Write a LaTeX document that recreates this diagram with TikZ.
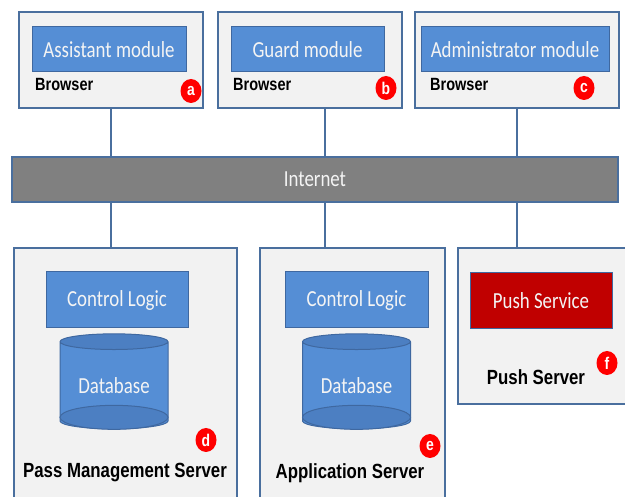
\documentclass[tikz,border=0pt]{standalone}
\usepackage{fontspec}
\usetikzlibrary{shapes.geometric,positioning}
\newfontfamily\modfamily{Carlito}[FakeStretch=0.82]
\newfontfamily\capfamily{Liberation Sans}[FakeStretch=0.82]
\newcommand\modfont{\modfamily\fontsize{23}{25}\selectfont}
\newcommand\capfont{\capfamily\bfseries\fontsize{17.7}{20}\selectfont}
\newcommand\srvfont{\capfamily\bfseries\fontsize{20.5}{22}\selectfont}
\newcommand\badgefont{\capfamily\bfseries\fontsize{17}{18}\selectfont}
\definecolor{hostfill}{HTML}{F2F2F2}
\definecolor{hostline}{HTML}{4A6F9E}
\definecolor{modfill}{HTML}{558ED5}
\definecolor{modline}{HTML}{3F68A0}
\definecolor{modtext}{HTML}{F4F4F4}
\definecolor{dbend}{HTML}{4C7FC2}
\definecolor{netfill}{HTML}{808080}
\definecolor{pushfill}{HTML}{C00000}
\definecolor{badgered}{HTML}{FF0000}

\begin{document}
\begin{tikzpicture}[x=1pt,y=-1pt,
    host/.style={draw=hostline, fill=hostfill, line width=1.3pt, inner sep=0pt},
    module/.style={draw=modline, fill=modfill, line width=1pt, text=modtext, font=\modfont, inner sep=0pt},
    caption/.style={font=\capfont, inner sep=0pt},
    srvcaption/.style={font=\srvfont, inner sep=0pt},
    badge/.style={ellipse, fill=badgered, text=white, font=\badgefont, minimum width=21pt, minimum height=24pt, inner sep=0pt},
    dbstore/.style={cylinder, shape border rotate=90, aspect=0.22, draw=modline, line width=1pt,
      cylinder uses custom fill, cylinder body fill=modfill, cylinder end fill=dbend,
      text=modtext, font=\modfont, inner sep=0pt, minimum width=108pt, minimum height=95pt},
    link/.style={draw=hostline, line width=1.5pt}]
  \clip (0,0) rectangle (625,497);

  % Browsers
  \node[host, minimum width=184pt, minimum height=96pt] (bra) at (111,60) {};
  \node[module, minimum width=154pt, minimum height=45pt] (asm) at (109,49.5) {Assistant module};
  \node[caption, anchor=west] (bla) at (35,85) {Browser};
  \node[badge] (ba) at (191,91) {a};

  \node[host, minimum width=184pt, minimum height=96pt] (brb) at (310,60) {};
  \node[module, minimum width=153pt, minimum height=45pt] (gdm) at (307.5,49.5) {Guard module};
  \node[caption, anchor=west] (blb) at (233,85) {Browser};
  \node[badge] (bb) at (386,88) {b};

  \node[host, minimum width=204pt, minimum height=96pt] (brc) at (517,60) {};
  \node[module, minimum width=188pt, minimum height=45pt] (adm) at (515,49.5) {Administrator module};
  \node[caption, anchor=west] (blc) at (430,85) {Browser};
  \node[badge] (bc) at (584,88) {c};

  % Internet
  \node[draw=hostline, fill=netfill, line width=1.3pt, text=modtext, font=\modfont,
    minimum width=606pt, minimum height=45pt, inner sep=0pt] (net) at (315,179.5) {Internet};

  % Servers
  \node[host, minimum width=223pt, minimum height=262pt] (pms) at (125.5,379) {};
  \node[module, minimum width=142pt, minimum height=56pt] (cla) at (117,300) {Control Logic};
  \node[dbstore] (dba) at (114,385.5) {Database};
  \node[badge] (bd) at (206,440) {d};
  \node[srvcaption] (lpms) at (125,473) {Pass Management Server};

  \node[host, minimum width=185pt, minimum height=262pt] (aps) at (352.5,379) {};
  \node[module, minimum width=143pt, minimum height=56pt] (clb) at (356.5,300) {Control Logic};
  \node[dbstore] (dbb) at (356.5,385.5) {Database};
  \node[badge] (be) at (430,446) {e};
  \node[srvcaption] (laps) at (350,473) {Application Server};

  \node[host, minimum width=174pt, minimum height=156pt] (pss) at (545,326) {};
  \node[module, fill=pushfill, minimum width=142pt, minimum height=56pt] (psh) at (541,301) {Push Service};
  \node[badge] (bf) at (607,363) {f};
  \node[srvcaption] (lpss) at (536,377) {Push Server};

  % bottom rims of the databases
  \draw[modline, line width=1pt, fill=dbend] ([yshift=12pt]dba.south) ellipse (54pt and 12pt);
  \draw[modline, line width=1pt, fill=dbend] ([yshift=12pt]dbb.south) ellipse (54pt and 12pt);

  % Links
  \coordinate (tapb) at ([xshift=15pt]brb.south);
  \draw[link] (bra.south) -- (bra.south |- net.north);
  \draw[link] (tapb) -- (tapb |- net.north);
  \draw[link] (brc.south) -- (brc.south |- net.north);
  \draw[link] (bra.south |- net.south) -- (bra.south |- pms.north);
  \draw[link] (tapb |- net.south) -- (tapb |- aps.north);
  \draw[link] (brc.south |- net.south) -- (brc.south |- pss.north);
\end{tikzpicture}
\end{document}
